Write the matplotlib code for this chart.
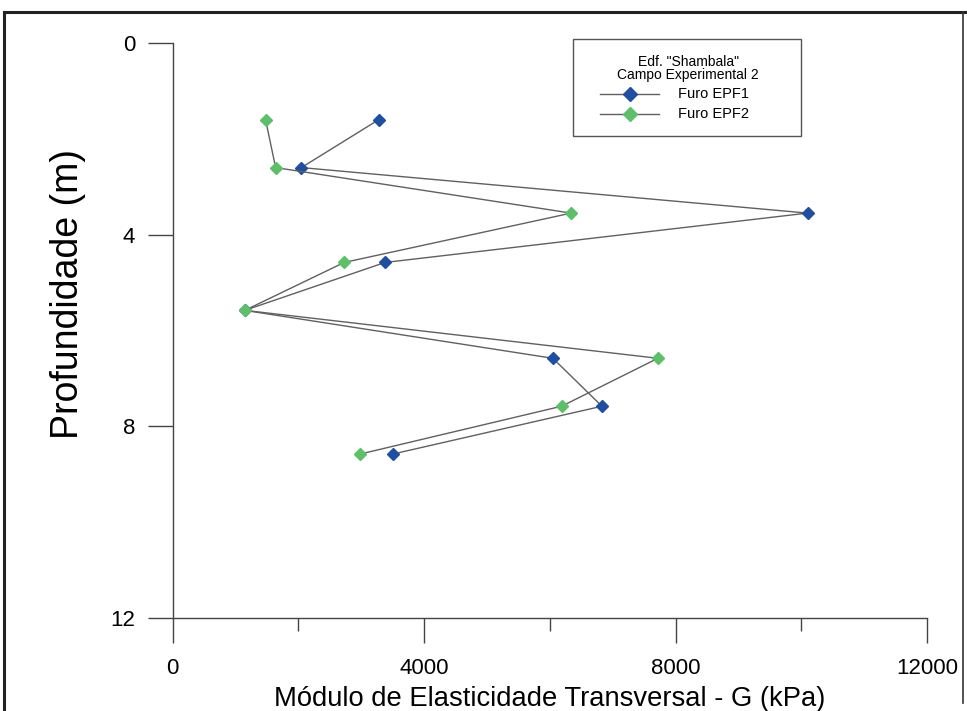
import matplotlib
matplotlib.use("Agg")
import matplotlib.pyplot as plt
from matplotlib.lines import Line2D
from matplotlib.patches import Rectangle
from matplotlib.ticker import MultipleLocator

# Depth of each test (m) and shear modulus G (kPa) for the two boreholes
depth = [1.6, 2.6, 3.55, 4.58, 5.58, 6.58, 7.58, 8.58]
g_epf1 = [3280, 2050, 10100, 3380, 1150, 6050, 6830, 3500]
g_epf2 = [1480, 1640, 6340, 2730, 1150, 7720, 6190, 2980]

series_labels = ["Furo EPF1", "Furo EPF2"]
legend_title = ['Edf. "Shambala"', "Campo Experimental 2"]
x_label = "Módulo de Elasticidade Transversal - G (kPa)"
y_label = "Profundidade (m)"
x_ticks = [0, 4000, 8000, 12000]
y_ticks = [0, 4, 8, 12]

plt.rcParams["font.family"] = ["Liberation Sans", "DejaVu Sans"]

W, H = 967, 711
fig = plt.figure(figsize=(W / 100, H / 100), dpi=100)
fig.patch.set_facecolor("white")

# axes box in pixels: left spine x=172.5, right end x=927, top y=43, bottom spine y=618
AX_L, AX_R, AX_T, AX_B = 172.5, 927.0, 43.0, 618.0
ax = fig.add_axes([AX_L / W, (H - AX_B) / H, (AX_R - AX_L) / W, (AX_B - AX_T) / H])


def ax_frac(px, py):
    """Pixel position (from top-left of the image) -> axes fraction."""
    return (px - AX_L) / (AX_R - AX_L), (AX_B - py) / (AX_B - AX_T)


line_col = "#606060"
colors = ["#1f4fa3", "#5cc068"]
for g, c, lab in zip([g_epf1, g_epf2], colors, series_labels):
    ax.plot(g, depth, color=line_col, lw=1.0, marker="D", ms=6,
            mfc=c, mec=c, label=lab, zorder=3)

ax.set_xlim(0, 12000)
ax.set_ylim(12, 0)
ax.set_xticks(x_ticks)
ax.xaxis.set_minor_locator(MultipleLocator(2000))
ax.set_yticks(y_ticks)

for s in ["top", "right"]:
    ax.spines[s].set_visible(False)
for s in ["left", "bottom"]:
    ax.spines[s].set_color("#444444")
    ax.spines[s].set_linewidth(1.0)

ax.tick_params(axis="both", which="major", direction="out", length=18,
               width=1.0, color="#444444", labelsize=16, pad=9)
ax.tick_params(axis="x", which="major", pad=11)
ax.tick_params(axis="x", which="minor", direction="out", length=9,
               width=1.0, color="#444444")
ax.tick_params(axis="y", which="minor", length=0)

ax.set_xlabel(x_label, fontsize=19.7, labelpad=5)
ax.set_ylabel(y_label, fontsize=27)
ax.yaxis.set_label_coords(*ax_frac(86, 294))

# legend box with a two-line centred title and one row per borehole
x0, y1 = ax_frac(573, 39)
x1, y0 = ax_frac(801, 136)
ax.add_patch(Rectangle((x0, y0), x1 - x0, y1 - y0, transform=ax.transAxes,
                       fill=False, edgecolor="#555555", lw=1.0, clip_on=False,
                       zorder=5))
for text, py in zip(legend_title, [62, 75]):
    tx, ty = ax_frac(688, py)
    ax.text(tx, ty, text, transform=ax.transAxes, ha="center", va="center",
            fontsize=10)
for lab, c, py in zip(series_labels, colors, [94, 114]):
    hx0, hy = ax_frac(600, py)
    hx1, _ = ax_frac(659, py)
    mx, _ = ax_frac(630, py)
    ax.add_artist(Line2D([hx0, hx1], [hy, hy], color=line_col, lw=1.0,
                         transform=ax.transAxes, clip_on=False))
    ax.add_artist(Line2D([mx], [hy], marker="D", ms=7, mfc=c, mec=c, lw=0,
                         transform=ax.transAxes, clip_on=False))
    tx, _ = ax_frac(678, py)
    ax.text(tx, hy, lab, transform=ax.transAxes, ha="left", va="center",
            fontsize=10.5)

# outer frame of the figure (left, top and right edges)
frame_kw = dict(transform=fig.transFigure, color="#222222", lw=2.2)
fig.add_artist(Line2D([4 / W, 4 / W], [0, (H - 12) / H], **frame_kw))
fig.add_artist(Line2D([4 / W, 1], [(H - 12) / H, (H - 12) / H], **frame_kw))
fig.add_artist(Line2D([963 / W, 963 / W], [8 / H, (H - 12) / H], color="#333333",
                      lw=1.2, transform=fig.transFigure))

fig.savefig("out.png", dpi=100)
